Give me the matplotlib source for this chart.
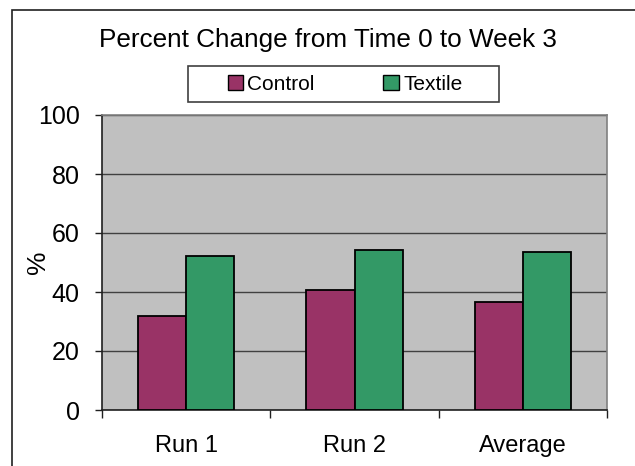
import numpy as np
import matplotlib.pyplot as plt
from matplotlib.patches import Rectangle

categories = ["Run 1", "Run 2", "Average"]
control = [32.0, 40.7, 36.7]
textile = [52.3, 54.2, 53.6]
y_ticks = [0, 20, 40, 60, 80, 100]

W, H = 635, 466
plt.rcParams["font.family"] = ["Liberation Sans", "DejaVu Sans"]

fig = plt.figure(figsize=(W / 100, H / 100), dpi=100)
fig.patch.set_facecolor("white")

# outer chart border (runs off the right/bottom edge like the original)
fig.patches.append(Rectangle((12 / W, -0.05), 1.2, 1 - 10 / H + 0.05,
                             transform=fig.transFigure, fill=False,
                             edgecolor="#202020", linewidth=1.2))

ax = fig.add_axes([102 / W, (H - 410) / H, 505 / W, 295 / H])
ax.set_facecolor("#C0C0C0")

x = np.arange(len(categories))
bw = 1 / 3.5
ax.bar(x - bw / 2, control, bw, color="#993366", edgecolor="black",
       linewidth=1.3, label="Control", zorder=3)
ax.bar(x + bw / 2, textile, bw, color="#339966", edgecolor="black",
       linewidth=1.3, label="Textile", zorder=3)

ax.set_xlim(-0.5, len(categories) - 0.5)
ax.set_ylim(0, 100)
ax.set_yticks(y_ticks)
ax.tick_params(axis="y", labelsize=18, length=5, width=1, color="#202020", pad=11)
ax.yaxis.grid(True, color="#404040", linewidth=1, zorder=1)
ax.set_axisbelow(True)

# category labels centred, ticks at boundaries
ax.set_xticks(x)
ax.set_xticklabels(categories, fontsize=17)
ax.tick_params(axis="x", length=0, pad=18)
ax.set_xticks(np.arange(len(categories) + 1) - 0.5, minor=True)
ax.tick_params(axis="x", which="minor", length=6, width=1, color="#202020")

for s in ["left", "bottom"]:
    ax.spines[s].set_color("#202020")
    ax.spines[s].set_linewidth(1.2)
for s in ["top", "right"]:
    ax.spines[s].set_color("#808080")
    ax.spines[s].set_linewidth(1.2)

ax.set_ylabel("%", fontsize=19, va="center")
ax.yaxis.set_label_coords(-0.127, 0.5)

fig.text(327.5 / W, 1 - 40 / H, "Percent Change from Time 0 to Week 3",
         ha="center", va="center", fontsize=18.8)

# wider legend box like Excel's, entries drawn on top of it
fig.patches.append(Rectangle((188 / W, 1 - 102 / H), 311 / W, 36 / H,
                             transform=fig.transFigure, facecolor="white",
                             edgecolor="#404040", linewidth=1.2, zorder=4))
handles, labels = ax.get_legend_handles_labels()
leg = fig.legend(handles, labels, loc="center",
                 bbox_to_anchor=(345 / W, 1 - 84 / H), ncol=2, fontsize=15,
                 frameon=False, handlelength=0.75, handleheight=0.75,
                 handletextpad=0.2, columnspacing=3.3)
leg.set_zorder(5)
for p in leg.get_patches():
    p.set_linewidth(1)

fig.savefig("out.png", dpi=100)
